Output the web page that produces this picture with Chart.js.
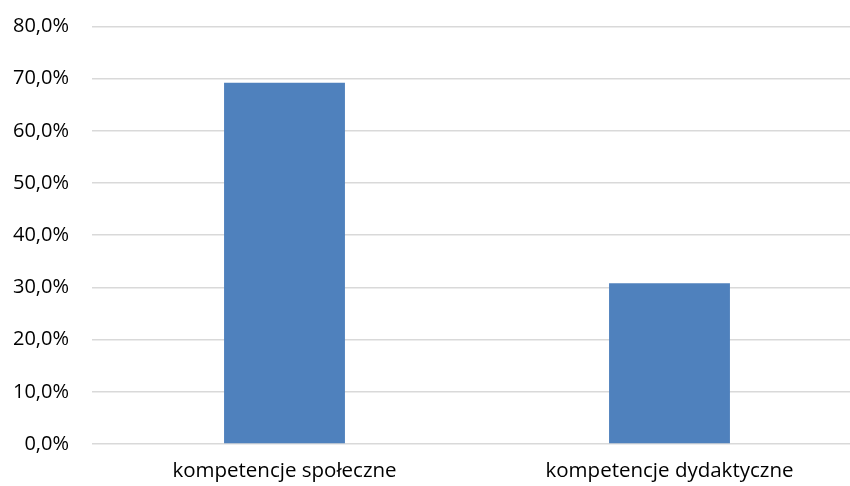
<!DOCTYPE html>
<html>
<head>
<meta charset="utf-8">
<script src="https://cdn.jsdelivr.net/npm/chart.js@4/dist/chart.umd.min.js"></script>
<style>
  html, body { margin: 0; padding: 0; background: #fff; overflow: hidden; }
  #wrap { width: 870px; height: 486px; }
</style>
</head>
<body>
<div id="wrap"><canvas id="c" width="870" height="486"></canvas></div>
<script>
const categories = ['kompetencje społeczne', 'kompetencje dydaktyczne'];
const shares = [69.2, 30.8];
const yTicks = [0, 10, 20, 30, 40, 50, 60, 70, 80];

const fmt = v => v.toFixed(1).replace('.', ',') + '%';

new Chart(document.getElementById('c'), {
  type: 'bar',
  data: {
    labels: categories,
    datasets: [{
      data: shares,
      backgroundColor: '#4f81bd',
      borderWidth: 0,
      categoryPercentage: 1,
      barPercentage: 0.314
    }]
  },
  options: {
    responsive: false,
    animation: false,
    layout: { padding: { left: 11, right: 8, top: 26.5, bottom: 0 } },
    plugins: { legend: { display: false }, tooltip: { enabled: false } },
    scales: {
      x: {
        afterFit: s => { s.height = 42; s.paddingLeft = 0; s.paddingRight = 0; },
        grid: { display: false, drawTicks: false },
        border: { display: false },
        ticks: { color: '#000', font: { family: 'Open Sans', size: 20.5 }, padding: 15 }
      },
      y: {
        min: 0, max: 80,
        afterFit: s => { s.width = 81; s.paddingTop = 0; s.paddingBottom = 0; },
        afterBuildTicks: s => { s.ticks = yTicks.map(v => ({ value: v })); },
        grid: { color: '#d9d9d9', lineWidth: 1.6, drawTicks: false },
        border: { display: false },
        ticks: { color: '#000', font: { family: 'Open Sans', size: 20 }, padding: 23, callback: v => fmt(v) }
      }
    }
  }
});
</script>
</body>
</html>
